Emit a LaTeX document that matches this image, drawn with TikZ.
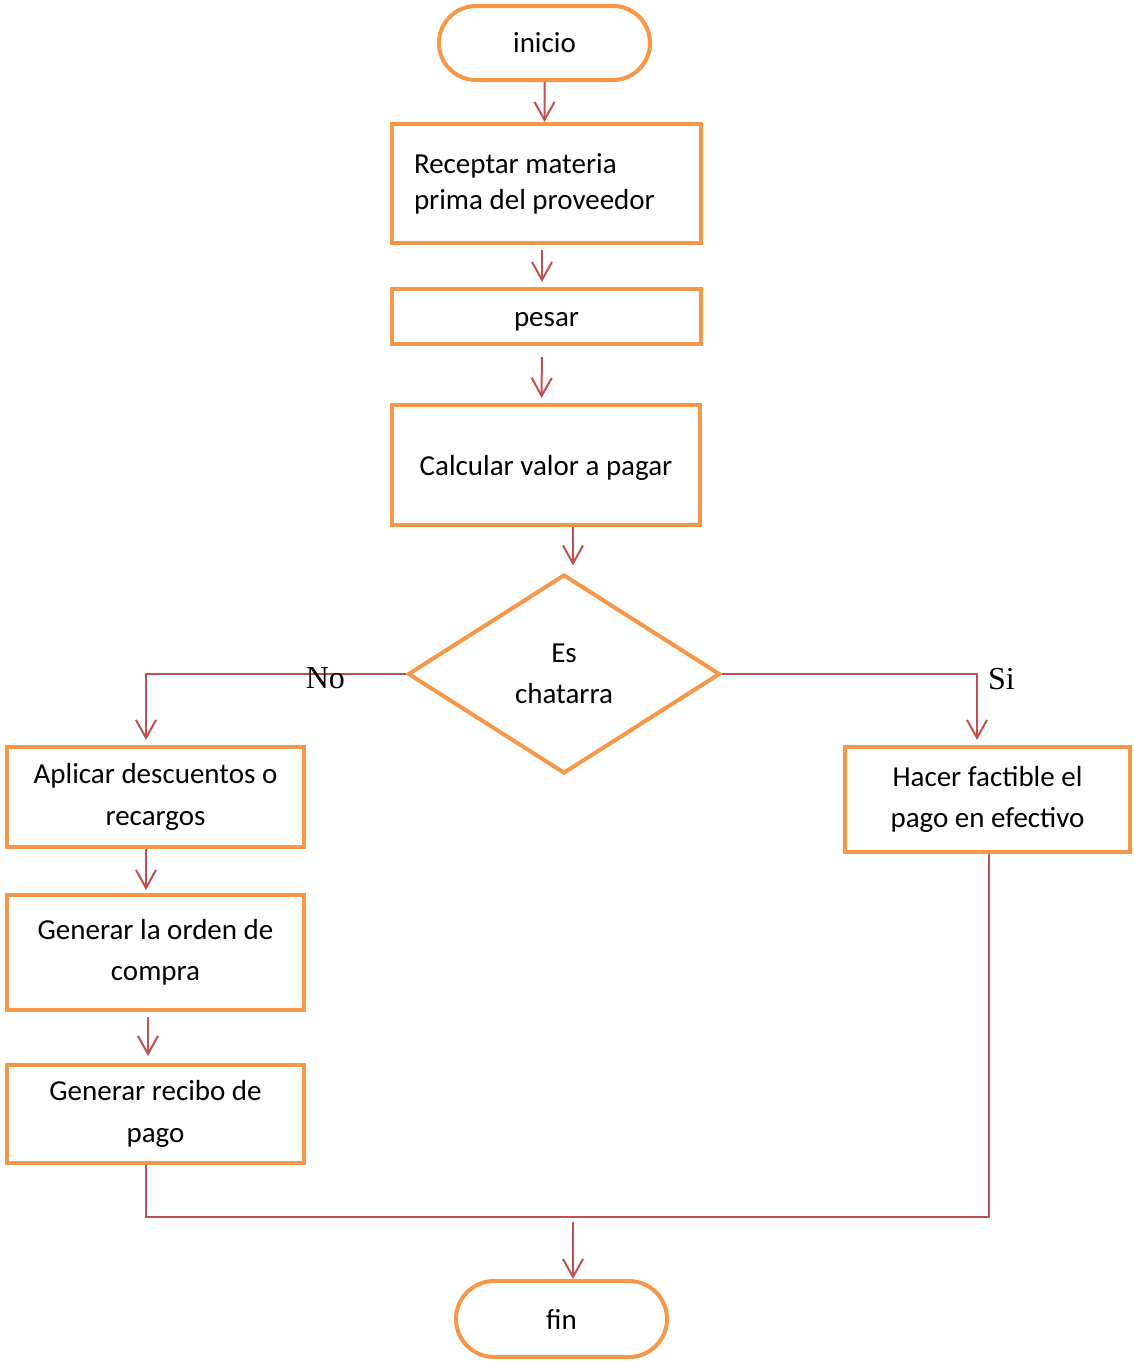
\documentclass[tikz,border=0pt]{standalone}
\usepackage{fontspec}
\setmainfont{Carlito}
\newfontfamily\timesfont{Liberation Serif}
\usepackage{xcolor}
\usetikzlibrary{shapes.geometric,shapes.misc,arrows.meta,positioning}
\definecolor{boxorange}{HTML}{F79646}
\definecolor{linered}{HTML}{C0504D}

\begin{document}
\begin{tikzpicture}[x=0.5pt,y=-0.5pt,
    >={Straight Barb[length=9pt,width=10pt]},
    box/.style={draw=boxorange,line width=2pt,align=center,inner sep=0pt,
      font=\fontsize{14.5}{20.75}\selectfont},
    term/.style={box,rounded rectangle,minimum width=105.5pt,minimum height=37pt},
    conn/.style={draw=linered,line width=1pt},
    lbl/.style={font=\timesfont\fontsize{16}{18}\selectfont,inner sep=0pt}]
  \useasboundingbox (0,0) rectangle (1134,1361);
  % main column
  \node[term] (inicio) at (544.5,43) {inicio};
  \node[box,align=flush left,text width=132.5pt,inner xsep=11pt,minimum height=59.5pt,
    font=\fontsize{14.5}{18}\selectfont] (receptar) at (546.5,183.5) {Receptar materia\\prima del proveedor};
  \node[box,minimum width=154.5pt,minimum height=27.5pt,text height=13pt,text depth=2.9pt] (pesar) at (546.5,316.5) {pesar};
  \node[box,minimum width=154pt,minimum height=60pt,text height=13pt,text depth=2.9pt] (calcular) at (546,465) {Calcular valor a pagar};
  \node[box,diamond,minimum width=156pt,minimum height=99.5pt] (chatarra) at (564,674) {Es\\chatarra};
  % left branch
  \node[box,minimum width=148.5pt,minimum height=50pt] (aplicar) at (155.5,797) {Aplicar descuentos o\\recargos};
  \node[box,minimum width=148.5pt,minimum height=57.5pt] (orden) at (155.5,952.5) {Generar la orden de\\compra};
  \node[box,minimum width=148.5pt,minimum height=49pt] (recibo) at (155.5,1114) {Generar recibo de\\pago};
  % right branch
  \node[box,minimum width=142.5pt,minimum height=52.5pt] (hacer) at (987.5,799.5) {Hacer factible el\\pago en efectivo};
  \node[term,minimum height=38pt] (fin) at (561.5,1319) {fin};
  \coordinate (union) at (573,1217);

  \draw[conn,->] (inicio) -- (receptar.north -| inicio);
  \draw[conn,->,shorten <=2.5pt,shorten >=2.5pt] ([xshift=-2.25pt]receptar.south) -- ([xshift=-2.25pt]pesar.north);
  \draw[conn,->,shorten <=5.5pt,shorten >=2.5pt] ([xshift=-2.25pt]pesar.south) -- ([xshift=-2.25pt]calcular.north);
  \draw[conn,->,shorten >=3.5pt] ([xshift=13.5pt]calcular.south) -- ([xshift=4.5pt]chatarra.north);
  \draw[conn,->,shorten >=2.5pt] (chatarra.west) -| node[lbl,pos=0.155,yshift=-2.25pt] {No} ([xshift=-4.75pt]aplicar.north);
  \draw[conn,->,shorten >=2.5pt] (chatarra.east) -| node[lbl,pos=0.5,anchor=west,xshift=5pt,yshift=-2.5pt] {Si} ([xshift=-5.25pt]hacer.north);
  \draw[conn,->,shorten >=1.5pt] ([xshift=-4.75pt]aplicar.south) -- ([xshift=-4.75pt]orden.north);
  \draw[conn,->,shorten <=2.5pt,shorten >=3.5pt] ([xshift=-3.75pt]orden.south) -- ([xshift=-3.75pt]recibo.north);
  \draw[conn] ([xshift=-4.75pt]recibo.south) |- (union) -| ([xshift=0.75pt]hacer.south);
  \draw[conn,->,shorten <=2.5pt] (union) -- (fin.north -| union);
\end{tikzpicture}
\end{document}
